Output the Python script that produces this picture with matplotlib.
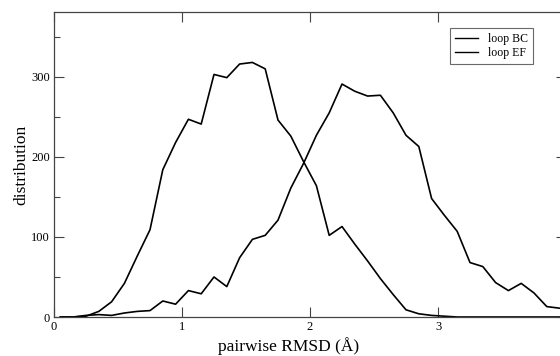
import numpy as np
import matplotlib
matplotlib.use('Agg')
import matplotlib.pyplot as plt
from matplotlib.ticker import MultipleLocator, FixedLocator

plt.rcParams['font.family'] = ['Liberation Serif', 'DejaVu Serif']

# bin centres of the RMSD histogram (Angstrom)
rmsd = np.arange(0.05, 4.0, 0.1)

# loop BC
loop_bc = [0, 0, 1, 7, 19, 42, 76, 109, 184, 218,
           247, 241, 303, 299, 316, 318, 310, 246, 226, 194,
           164, 102, 113, 91, 70, 48, 28, 9, 4, 2,
           1, 0, 0, 0, 0, 0, 0, 0, 0, 0]

# loop EF
loop_ef = [0, 0, 2, 3, 2, 5, 7, 8, 20, 16,
           33, 29, 50, 38, 74, 97, 102, 121, 161, 192,
           227, 255, 291, 282, 276, 277, 255, 227, 213, 148,
           127, 107, 68, 63, 43, 33, 42, 30, 13, 11]

labels = ['loop BC', 'loop EF']
xticks = [0, 1, 2, 3]

fig = plt.figure(figsize=(5.6, 3.56), dpi=100)
ax = fig.add_axes([54 / 560, 39 / 356, 512 / 560, 305 / 356])

ax.plot(rmsd, loop_bc, color='black', lw=1.2, label=labels[0])
ax.plot(rmsd, loop_ef, color='black', lw=1.2, label=labels[1])

ax.set_xlim(0, 4)
ax.set_ylim(0, 381)
ax.xaxis.set_major_locator(FixedLocator(xticks))
ax.yaxis.set_major_locator(MultipleLocator(100))
ax.yaxis.set_minor_locator(MultipleLocator(50))
ax.tick_params(which='both', direction='in', top=True, right=True,
               labelsize=9, color='#444444', pad=3)
ax.tick_params(which='major', length=7, width=0.8)
ax.tick_params(which='minor', length=4, width=0.8)
for s in ax.spines.values():
    s.set_linewidth(0.9)
    s.set_color('#444444')

# the label sits a bit left of the axes centre in the original
ax.set_xlabel('pairwise RMSD (Å)', fontsize=12.5, labelpad=2)
ax.xaxis.set_label_coords(235 / 512, -20 / 305, transform=ax.transAxes)
ax.xaxis.label.set_verticalalignment('top')
ax.set_ylabel('distribution', fontsize=12.5, labelpad=1)

leg = ax.legend(loc='upper left', bbox_to_anchor=(396 / 512, 1 - 16 / 305),
                fontsize=8.5, frameon=True, fancybox=False,
                handlelength=2.0, handletextpad=0.8, borderpad=0.4,
                labelspacing=0.2, borderaxespad=0)
leg.get_frame().set_edgecolor('#444444')
leg.get_frame().set_linewidth(0.8)
for line in leg.get_lines():
    line.set_linewidth(1.0)

fig.savefig('out.png', dpi=100)
